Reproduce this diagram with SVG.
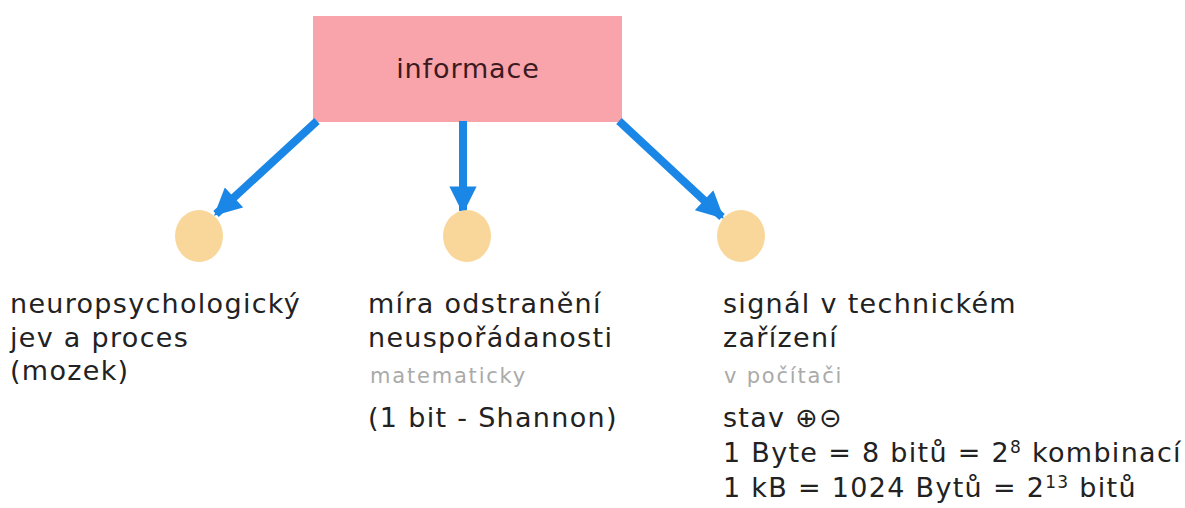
<svg xmlns="http://www.w3.org/2000/svg" width="1185" height="508" viewBox="0 0 1185 508">
  <style>
    text { font-family: "DejaVu Sans", Verdana, sans-serif; }
    .main { font-size: 27px; fill: #222; letter-spacing: 1.3px; }
    .note { font-size: 21px; fill: #aaa; letter-spacing: 1.8px; }
    .title { font-size: 27px; fill: #3b1a22; letter-spacing: 0.9px; }
    .sup { font-size: 17px; }
    .dot { fill: #f9d79a; }
    .conn { stroke: #1a87e6; stroke-width: 8; fill: none; }
  </style>
  <defs>
    <marker id="head" viewBox="0 0 10 10" refX="9" refY="5" markerWidth="3.5" markerHeight="3.4" orient="auto" markerUnits="strokeWidth">
      <path d="M0,0 L10,5 L0,10 z" fill="#1a87e6"/>
    </marker>
  </defs>
  <rect width="1185" height="508" fill="#ffffff"/>

  <g id="informace">
    <rect x="313" y="16" width="309" height="106" fill="#f9a4ab"/>
    <text class="title" x="468" y="78" text-anchor="middle">informace</text>
  </g>

  <g id="connectors">
    <line class="conn" x1="317" y1="121" x2="216" y2="214" marker-end="url(#head)"/>
    <line class="conn" x1="463" y1="121" x2="463" y2="211" marker-end="url(#head)"/>
    <line class="conn" x1="619" y1="121" x2="722" y2="217" marker-end="url(#head)"/>
  </g>

  <g id="mozek">
    <ellipse class="dot" cx="199" cy="236" rx="24" ry="26"/>
    <text class="main" x="10" y="313">neuropsychologický</text>
    <text class="main" x="10" y="347">jev a proces</text>
    <text class="main" x="10" y="380">(mozek)</text>
  </g>

  <g id="matematicky">
    <ellipse class="dot" cx="467" cy="236" rx="24" ry="26"/>
    <text class="main" x="368" y="313">míra odstranění</text>
    <text class="main" x="368" y="347">neuspořádanosti</text>
    <text class="note" x="370" y="383">matematicky</text>
    <text class="main" x="368" y="427">(1 bit - Shannon)</text>
  </g>

  <g id="pocitac">
    <ellipse class="dot" cx="741" cy="236" rx="24" ry="26"/>
    <text class="main" x="723" y="313">signál v technickém</text>
    <text class="main" x="723" y="347">zařízení</text>
    <text class="note" x="724" y="383">v počítači</text>
    <text class="main" x="723" y="427">stav ⊕⊝</text>
    <text class="main" x="723" y="462">1 Byte = 8 bitů = 2<tspan class="sup" dy="-9">8</tspan><tspan dy="9"> kombinací</tspan></text>
    <text class="main" x="723" y="497">1 kB = 1024 Bytů = 2<tspan class="sup" dy="-9">13</tspan><tspan dy="9"> bitů</tspan></text>
  </g>
</svg>
